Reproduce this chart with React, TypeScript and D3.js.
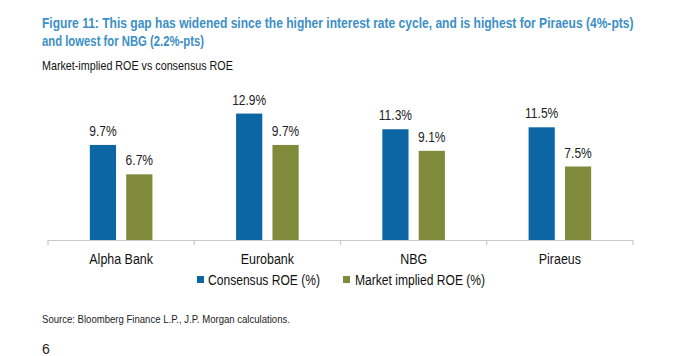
import React, { useLayoutEffect, useRef, useState } from "react";
import * as d3 from "d3";

const categories = ["Alpha Bank", "Eurobank", "NBG", "Piraeus"];
const consensusROE = [9.7, 12.9, 11.3, 11.5];
const marketImpliedROE = [6.7, 9.7, 9.1, 7.5];
const seriesNames = ["Consensus ROE (%)", "Market implied ROE (%)"];
const titleLines = [
  "Figure 11: This gap has widened since the higher interest rate cycle, and is highest for Piraeus (4%-pts)",
  "and lowest for NBG (2.2%-pts)",
];
const subtitle = "Market-implied ROE vs consensus ROE";
const source = "Source: Bloomberg Finance L.P., J.P. Morgan calculations.";
const pageNumber = "6";

const W = 700;
const H = 356;
const BLUE = "#0b66a3";
const GREEN = "#7f8a3a";
const TITLE = "#3d8fc6";
const FONT = "'Liberation Sans', Arial, sans-serif";

type TProps = {
  x: number;
  y: number;
  sx?: number;
  width?: number;
  anchor?: "start" | "middle" | "end";
  size: number;
  fill: string;
  bold?: boolean;
  children: React.ReactNode;
};

function NText({ x, y, sx = 0.82, width, anchor = "start", size, fill, bold, children }: TProps) {
  const ref = useRef<SVGTextElement>(null);
  const [scale, setScale] = useState(sx);
  useLayoutEffect(() => {
    if (width && ref.current) {
      const len = ref.current.getComputedTextLength();
      if (len > 0) setScale(width / len);
    }
  }, [width, children]);
  return (
    <g transform={`translate(${x},${y}) scale(${scale},1)`}>
      <text ref={ref} x={0} y={0} textAnchor={anchor} fontSize={size} fill={fill} fontWeight={bold ? "bold" : "normal"}>
        {children}
      </text>
    </g>
  );
}

export default function App() {
  const x0 = d3.scaleBand<string>().domain(categories).range([48, 633]).paddingInner(0).paddingOuter(0);
  const x1 = d3.scaleBand<number>().domain([0, 1]).range([0, x0.bandwidth()]).paddingInner(0.28).paddingOuter(1.15);
  const y = d3.scaleLinear().domain([0, 14]).range([240, 240 - 14 * 9.8]);
  const series = [consensusROE, marketImpliedROE];
  const colors = [BLUE, GREEN];
  const bounds = [...categories.map((c) => x0(c)!), 633];

  return (
    <svg width={W} height={H} style={{ position: "absolute", left: 0, top: 0, background: "#fff" }} fontFamily={FONT}>
      <rect width={W} height={H} fill="#fff" />
      <NText x={42} y={28} fill={TITLE} bold size={14} width={592}>{titleLines[0]}</NText>
      <NText x={42} y={46} fill={TITLE} bold size={14} width={162}>{titleLines[1]}</NText>
      <NText x={42} y={70} fill="#111" size={12} width={191}>{subtitle}</NText>

      {categories.map((c, i) => (
        <g key={c} transform={`translate(${x0(c)},0)`}>
          {series.map((s, j) => (
            <g key={j}>
              <rect x={x1(j)} y={y(s[i])} width={x1.bandwidth()} height={y(0) - y(s[i])} fill={colors[j]} />
              <NText x={x1(j)! + x1.bandwidth() / 2} y={y(s[i]) - 9} anchor="middle" size={14} sx={0.86} fill="#222">
                {s[i].toFixed(1)}%
              </NText>
            </g>
          ))}
          <NText x={x0.bandwidth() / 2} y={264} anchor="middle" size={15} sx={0.83} fill="#111">{c}</NText>
        </g>
      ))}

      <line x1={48} x2={633} y1={240.5} y2={240.5} stroke="#c9c9c9" strokeWidth={1.2} />
      {bounds.map((b, i) => (
        <line key={i} x1={b} x2={b} y1={240} y2={245} stroke="#c9c9c9" strokeWidth={1.2} />
      ))}

      <g>
        <rect x={197} y={276} width={7} height={7} fill={BLUE} />
        <NText x={208} y={285} size={15} width={112} fill="#111">{seriesNames[0]}</NText>
        <rect x={343} y={276} width={7} height={7} fill={GREEN} />
        <NText x={355} y={285} size={15} width={130} fill="#111">{seriesNames[1]}</NText>
      </g>

      <NText x={42} y={323} size={11} width={248} fill="#222">{source}</NText>
      <text x={42} y={354} fontSize={14} fill="#222">{pageNumber}</text>
    </svg>
  );
}
